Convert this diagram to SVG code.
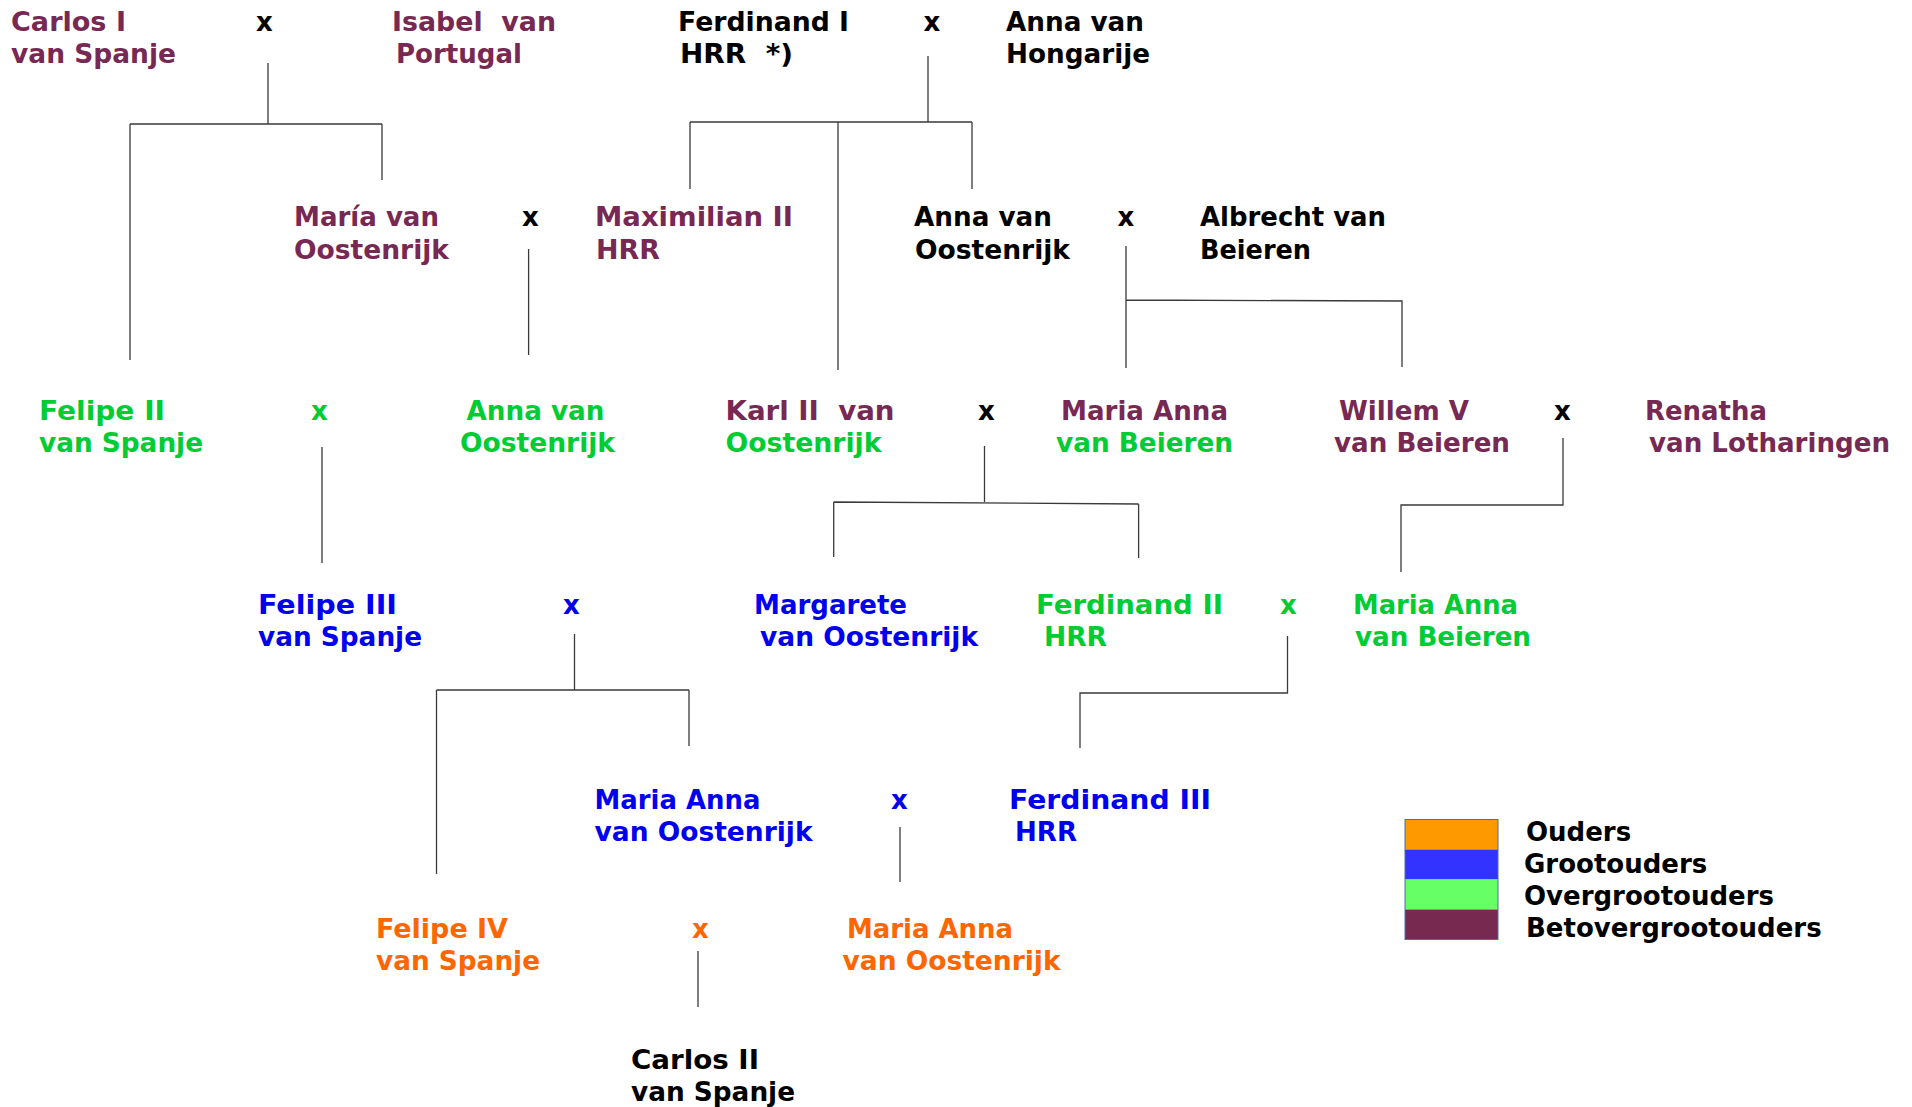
<svg xmlns="http://www.w3.org/2000/svg" width="1912" height="1107" viewBox="0 0 1912 1107">
<style>
text{font-family:"DejaVu Sans","Verdana",sans-serif;font-weight:bold;font-size:26px;white-space:pre}
.p{fill:#772953}.g{fill:#00cc33}.b{fill:#0000ee}.o{fill:#ff6600}.k{fill:#000}
.ln{stroke:#3a3a3a;stroke-width:1.3;fill:none}
</style>
<rect width="1912" height="1107" fill="#fff"/>
<g id="connectors" class="ln">
<path d="M268,63V124M130,124H382M130,124V360M382,124V180"/>
<path d="M928,56V122M690,122H972M690,122V189M838,122V370M972,122V189"/>
<path d="M528.6,249V355"/>
<path d="M1126,246V368M1126,300L1402,301V367"/>
<path d="M322,447V563"/>
<path d="M984.5,446V502M833.7,502L1138.6,504M833.7,502V557M1138.6,504V558"/>
<path d="M1563,438V505H1401V572"/>
<path d="M574.5,634V690M436.5,690H689M436.5,690V874M689,690V746"/>
<path d="M1287.5,636V693H1080V748"/>
<path d="M900,827V882"/>
<path d="M698,951V1007"/>
</g>
<g id="carlos1"><text class="p" x="11" y="31" textLength="115" lengthAdjust="spacingAndGlyphs">Carlos I</text><text class="p" x="11" y="63" textLength="165" lengthAdjust="spacingAndGlyphs">van Spanje</text></g>
<g id="m1"><text class="k" x="256" y="31">x</text></g>
<g id="isabel"><text class="p" x="392" y="31" textLength="164" lengthAdjust="spacingAndGlyphs">Isabel  van</text><text class="p" x="396" y="63" textLength="126" lengthAdjust="spacingAndGlyphs">Portugal</text></g>
<g id="ferdinand1"><text class="k" x="678" y="31" textLength="171" lengthAdjust="spacingAndGlyphs">Ferdinand I</text><text class="k" x="680" y="63" textLength="113" lengthAdjust="spacingAndGlyphs">HRR  *)</text></g>
<g id="m2"><text class="k" x="923.6" y="31">x</text></g>
<g id="anna-hongarije"><text class="k" x="1006" y="31" textLength="138" lengthAdjust="spacingAndGlyphs">Anna van</text><text class="k" x="1006" y="63" textLength="144" lengthAdjust="spacingAndGlyphs">Hongarije</text></g>

<g id="maria-oostenrijk"><text class="p" x="294" y="226" textLength="145" lengthAdjust="spacingAndGlyphs">María van</text><text class="p" x="294" y="259" textLength="155" lengthAdjust="spacingAndGlyphs">Oostenrijk</text></g>
<g id="m3"><text class="k" x="522" y="226">x</text></g>
<g id="maximilian2"><text class="p" x="595" y="226" textLength="198" lengthAdjust="spacingAndGlyphs">Maximilian II</text><text class="p" x="596" y="259" textLength="64" lengthAdjust="spacingAndGlyphs">HRR</text></g>
<g id="anna-oostenrijk"><text class="k" x="914" y="226" textLength="138" lengthAdjust="spacingAndGlyphs">Anna van</text><text class="k" x="915" y="259" textLength="155" lengthAdjust="spacingAndGlyphs">Oostenrijk</text></g>
<g id="m4"><text class="k" x="1117.5" y="226">x</text></g>
<g id="albrecht"><text class="k" x="1200" y="226" textLength="186" lengthAdjust="spacingAndGlyphs">Albrecht van</text><text class="k" x="1200" y="259" textLength="111" lengthAdjust="spacingAndGlyphs">Beieren</text></g>

<g id="felipe2"><text class="g" x="39" y="420" textLength="126" lengthAdjust="spacingAndGlyphs">Felipe II</text><text class="g" x="39" y="452" textLength="164" lengthAdjust="spacingAndGlyphs">van Spanje</text></g>
<g id="m5"><text class="g" x="311" y="420">x</text></g>
<g id="anna-oostenrijk2"><text class="g" x="466.5" y="420" textLength="138" lengthAdjust="spacingAndGlyphs">Anna van</text><text class="g" x="460" y="452" textLength="155" lengthAdjust="spacingAndGlyphs">Oostenrijk</text></g>
<g id="karl2"><text class="p" x="725.5" y="420" textLength="169" lengthAdjust="spacingAndGlyphs">Karl II  van</text><text class="g" x="725.5" y="452" textLength="156" lengthAdjust="spacingAndGlyphs">Oostenrijk</text></g>
<g id="m6"><text class="k" x="978" y="420">x</text></g>
<g id="maria-anna-beieren1"><text class="p" x="1061" y="420" textLength="167" lengthAdjust="spacingAndGlyphs">Maria Anna</text><text class="g" x="1056" y="452" textLength="177" lengthAdjust="spacingAndGlyphs">van Beieren</text></g>
<g id="willem5"><text class="p" x="1339" y="420" textLength="130" lengthAdjust="spacingAndGlyphs">Willem V</text><text class="p" x="1334" y="452" textLength="176" lengthAdjust="spacingAndGlyphs">van Beieren</text></g>
<g id="m7"><text class="k" x="1554" y="420">x</text></g>
<g id="renatha"><text class="p" x="1645" y="420" textLength="122" lengthAdjust="spacingAndGlyphs">Renatha</text><text class="p" x="1649" y="452" textLength="241" lengthAdjust="spacingAndGlyphs">van Lotharingen</text></g>

<g id="felipe3"><text class="b" x="258" y="614" textLength="139" lengthAdjust="spacingAndGlyphs">Felipe III</text><text class="b" x="258" y="646" textLength="164" lengthAdjust="spacingAndGlyphs">van Spanje</text></g>
<g id="m8"><text class="b" x="563" y="614">x</text></g>
<g id="margarete"><text class="b" x="754" y="614" textLength="153" lengthAdjust="spacingAndGlyphs">Margarete</text><text class="b" x="760" y="646" textLength="218" lengthAdjust="spacingAndGlyphs">van Oostenrijk</text></g>
<g id="ferdinand2"><text class="g" x="1036" y="614" textLength="187" lengthAdjust="spacingAndGlyphs">Ferdinand II</text><text class="g" x="1044" y="646" textLength="63" lengthAdjust="spacingAndGlyphs">HRR</text></g>
<g id="m9"><text class="g" x="1280" y="614">x</text></g>
<g id="maria-anna-beieren2"><text class="g" x="1353" y="614" textLength="165" lengthAdjust="spacingAndGlyphs">Maria Anna</text><text class="g" x="1355" y="646" textLength="176" lengthAdjust="spacingAndGlyphs">van Beieren</text></g>

<g id="maria-anna-oostenrijk1"><text class="b" x="594.5" y="809" textLength="166" lengthAdjust="spacingAndGlyphs">Maria Anna</text><text class="b" x="594.5" y="841" textLength="218" lengthAdjust="spacingAndGlyphs">van Oostenrijk</text></g>
<g id="m10"><text class="b" x="891" y="809">x</text></g>
<g id="ferdinand3"><text class="b" x="1009" y="809" textLength="202" lengthAdjust="spacingAndGlyphs">Ferdinand III</text><text class="b" x="1015" y="841" textLength="62" lengthAdjust="spacingAndGlyphs">HRR</text></g>

<g id="felipe4"><text class="o" x="376" y="938" textLength="132" lengthAdjust="spacingAndGlyphs">Felipe IV</text><text class="o" x="376" y="970" textLength="164" lengthAdjust="spacingAndGlyphs">van Spanje</text></g>
<g id="m11"><text class="o" x="692" y="938">x</text></g>
<g id="maria-anna-oostenrijk2"><text class="o" x="847" y="938" textLength="166" lengthAdjust="spacingAndGlyphs">Maria Anna</text><text class="o" x="842.5" y="970" textLength="218" lengthAdjust="spacingAndGlyphs">van Oostenrijk</text></g>

<g id="carlos2"><text class="k" x="631" y="1069" textLength="128" lengthAdjust="spacingAndGlyphs">Carlos II</text><text class="k" x="631" y="1101" textLength="164" lengthAdjust="spacingAndGlyphs">van Spanje</text></g>

<g id="legend">
<rect x="1405" y="819.5" width="93" height="30" fill="#ff9900"/>
<rect x="1405" y="849.5" width="93" height="30" fill="#3333ff"/>
<rect x="1405" y="879.5" width="93" height="30" fill="#66ff66"/>
<rect x="1405" y="909.5" width="93" height="30" fill="#77294f"/>
<rect x="1405" y="819.5" width="93" height="120" fill="none" stroke="#4a6fa5" stroke-width="1"/>
<text class="k" x="1526" y="841">Ouders</text>
<text class="k" x="1524" y="873">Grootouders</text>
<text class="k" x="1524" y="905">Overgrootouders</text>
<text class="k" x="1526" y="937">Betovergrootouders</text>
</g>
</svg>
